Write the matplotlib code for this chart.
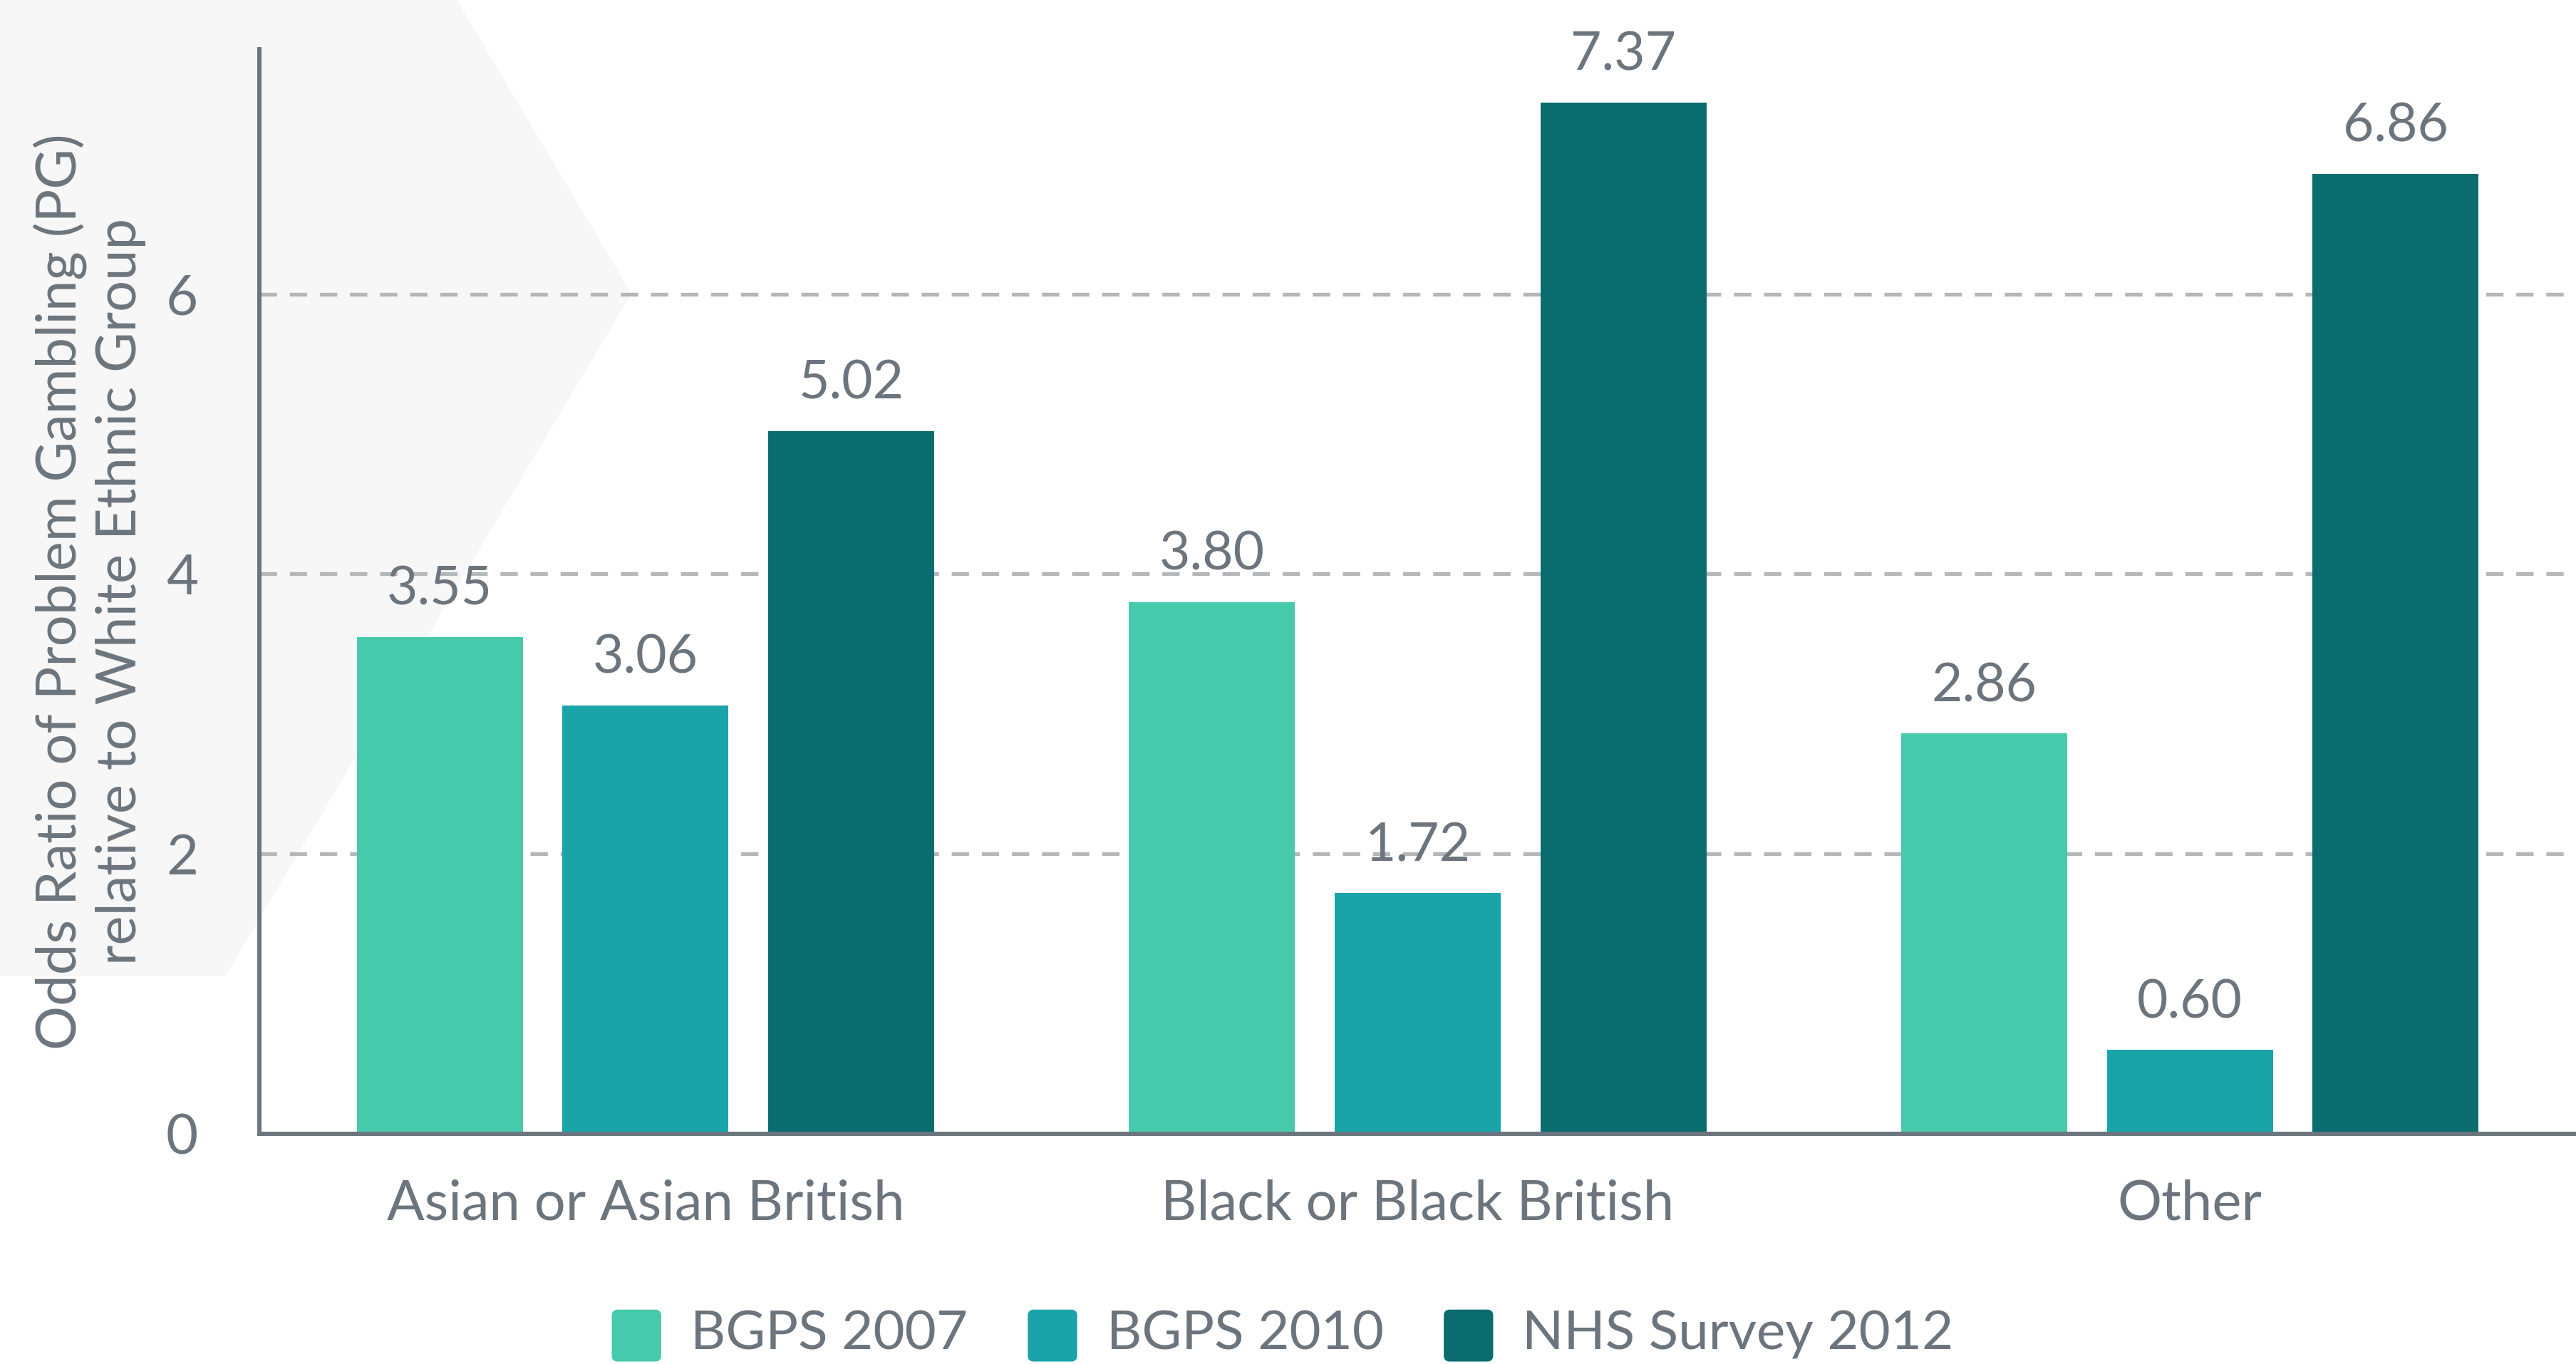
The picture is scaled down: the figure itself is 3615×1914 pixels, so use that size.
import matplotlib
matplotlib.use("Agg")
import matplotlib.pyplot as plt
import numpy as np
from matplotlib.patches import Polygon, FancyBboxPatch
from matplotlib.legend_handler import HandlerPatch

categories = ["Asian or Asian British", "Black or Black British", "Other"]
series_names = ["BGPS 2007", "BGPS 2010", "NHS Survey 2012"]
bgps_2007 = [3.55, 3.80, 2.86]
bgps_2010 = [3.06, 1.72, 0.60]
nhs_2012 = [5.02, 7.37, 6.86]
yticks = [0, 2, 4, 6]
ylabel = "Odds Ratio of Problem Gambling (PG)\nrelative to White Ethnic Group"

colors = ["#47C9AB", "#1AA3A9", "#0B6C70"]
text_color = "#6C757D"
grid_color = "#B3B7BA"

plt.rcParams['font.family'] = ['Lato', 'DejaVu Sans']

W, H = 3615, 1914
fig = plt.figure(figsize=(W / 100, H / 100), dpi=100)
fig.patch.set_facecolor("white")

# background decorative shape (figure pixel coords -> fraction)
poly_px = [(0, 0), (641, 0), (886, 412), (316, 1370), (0, 1370)]
poly = Polygon([(x / W, 1 - y / H) for x, y in poly_px], closed=True,
               transform=fig.transFigure, facecolor="#F7F7F7", edgecolor="none", zorder=-5)
fig.patches.append(poly)

ax = fig.add_axes([364 / W, 1 - 1591 / H, 1 - 364 / W, (1591 - 69) / H])
ax.set_facecolor("none")
ax.set_zorder(2)

x = np.arange(len(categories))
step = 0.2665
width = 0.215
all_series = [bgps_2007, bgps_2010, nhs_2012]
for i, (vals, name, c) in enumerate(zip(all_series, series_names, colors)):
    pos = x + (i - 1) * step
    bars = ax.bar(pos, vals, width=width, color=c, label=name, zorder=3)
    for xp, v in zip(pos, vals):
        ax.annotate(f"{v:.2f}", (xp, v), xytext=(0, 48), textcoords="offset points",
                    ha="center", va="center", fontsize=54, color=text_color)

ax.set_xlim(-0.5, 2.5)
ax.set_ylim(0, 7.75)
ax.set_xticks(x)
ax.set_xticklabels(categories)
ax.set_yticks(yticks)
ax.tick_params(axis="both", length=0, labelsize=56, colors=text_color)
ax.tick_params(axis="x", pad=46)
ax.tick_params(axis="y", pad=62)

for yv in yticks[1:]:
    ax.axhline(yv, color=grid_color, lw=3.8, linestyle=(0, (4.6, 3.4)), zorder=1)

for s in ["top", "right"]:
    ax.spines[s].set_visible(False)
for s in ["left", "bottom"]:
    ax.spines[s].set_color(text_color)
    ax.spines[s].set_linewidth(4.3)
    ax.spines[s].set_zorder(4)

ax.set_ylabel(ylabel, fontsize=56, color=text_color, linespacing=1.2)
ax.yaxis.set_label_coords(-0.049, 0.5)


class RoundHandler(HandlerPatch):
    def create_artists(self, legend, orig_handle, xdescent, ydescent, width, height, fontsize, trans):
        size = min(width, height)
        p = FancyBboxPatch((-xdescent + (width - size) / 2, -ydescent + (height - size) / 2 - 0.12 * size),
                           size, size * 1.05,
                           boxstyle=f"round,pad=0,rounding_size={0.12 * size}",
                           facecolor=orig_handle.get_facecolor(), edgecolor="none", transform=trans)
        return [p]


handles, labels = ax.get_legend_handles_labels()
handles = [h.patches[0] for h in handles]
leg = fig.legend(handles, labels, loc="center", bbox_to_anchor=(1798 / W, 1 - 1870 / H), ncol=3,
                 frameon=False, fontsize=55, handlelength=1.02, handleheight=1.02,
                 handletextpad=0.48, columnspacing=1.05, labelcolor=text_color,
                 handler_map={matplotlib.patches.Rectangle: RoundHandler()})

fig.savefig("out.png", dpi=100)
